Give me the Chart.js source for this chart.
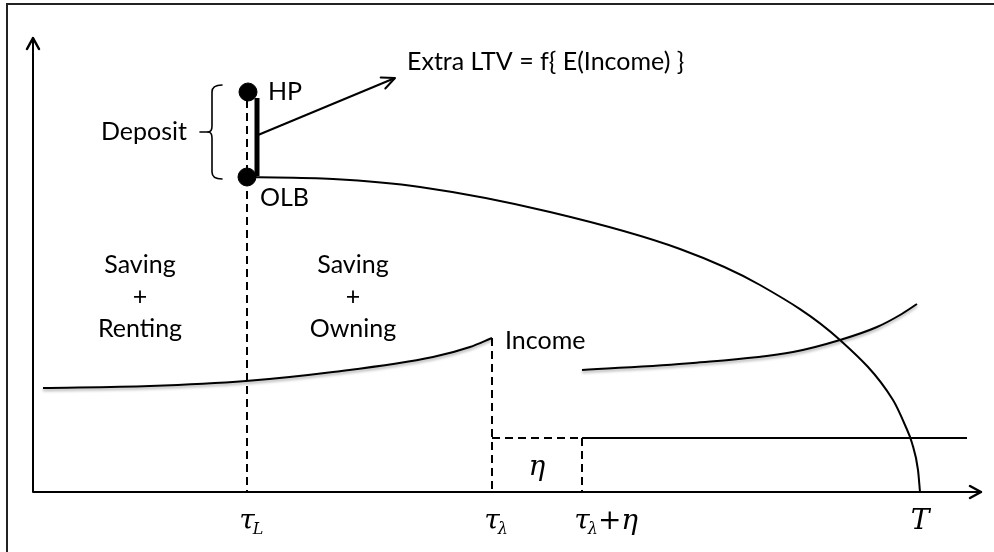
<!DOCTYPE html>
<html lang="en">
<head>
<meta charset="UTF-8" />
<title>Deposit, OLB and Income</title>
<script src="https://cdnjs.cloudflare.com/ajax/libs/Chart.js/4.4.0/chart.umd.min.js"></script>
<style>
  html, body { margin: 0; padding: 0; background: #fff; overflow: hidden; }
  .frame { position: relative; width: 994px; height: 552px; }
  .frame::before {
    content: "";
    position: absolute;
    left: 6px; top: 3px; right: -10px; bottom: -10px;
    border-left: 2px solid #222;
    border-top: 2px solid #222;
  }
  #chart { position: absolute; left: 0; top: 0; }
</style>
</head>
<body>
<div class="frame">
  <canvas id="chart" width="994" height="552"></canvas>
</div>
<script>
  // axes range (arbitrary units, origin at the corner of the axes)
  const xMax = 948, yMax = 454;

  // time axis ticks
  const tickValues = [214, 459, 549, 887];
  const tickMain = ["τ", "τ", "τ", "T"];
  const tickSub = ["L", "λ", "λ", ""];
  const tickTail = ["", "", "+η", ""];

  // income before and after the shock
  const incomeX1 = [10, 117, 213, 300, 400, 437, 459];
  const incomeY1 = [104, 106, 111, 120, 135, 145, 154];
  const incomeX2 = [549, 660, 760, 807, 844, 867, 884];
  const incomeY2 = [122, 129, 140, 152, 165, 177, 188];

  // outstanding loan balance
  const olbX = [214, 300, 387, 517, 647, 727, 807, 860, 872, 879, 885, 887];
  const olbY = [315, 313, 305, 280, 243, 207, 152, 92, 67, 49, 22, 0];

  // flat line after tau_lambda + eta
  const flatX = [549, 934];
  const flatY = [54, 54];

  // dashed guides
  const dashedX = [[214, 214], [459, 459], [459, 549], [549, 549]];
  const dashedY = [[392, 0], [154, 0], [54, 54], [54, 0]];

  // HP and OLB points, deposit bar, arrow to the LTV note
  const dotX = [215, 214];
  const dotY = [400, 315];
  const depositX = [224, 224];
  const depositY = [394, 316];
  const arrowX = [225, 362];
  const arrowY = [357, 414];

  // curly brace beside the deposit
  const braceX = 179, braceArmX = 189, braceTipX = 167;
  const braceTop = 407, braceMid = 360, braceBottom = 313;

  // text labels
  const labelText = ["Deposit", "HP", "OLB", "Extra LTV = f{ E(Income) }",
                     "Saving", "+", "Renting", "Saving", "+", "Owning", "Income"];
  const labelX = [154, 235, 227, 374, 107, 107, 107, 320, 320, 320, 472];
  const labelY = [360, 400, 294, 430, 227, 195, 163, 227, 195, 163, 151];
  const labelAlign = ["right", "left", "left", "left", "center", "center", "center",
                      "center", "center", "center", "left"];
  const etaX = 504, etaY = 24;

  const pts = (xs, ys) => xs.map((x, i) => ({ x: x, y: ys[i] }));

  const lineStyle = {
    showLine: true, borderColor: "#000", borderWidth: 2,
    pointRadius: 0, fill: false, clip: false
  };

  const datasets = [
    Object.assign({ label: "income1", data: pts(incomeX1, incomeY1), cubicInterpolationMode: "monotone", shadow: true }, lineStyle),
    Object.assign({ label: "income2", data: pts(incomeX2, incomeY2), cubicInterpolationMode: "monotone", shadow: true }, lineStyle),
    Object.assign({ label: "olb", data: pts(olbX, olbY), cubicInterpolationMode: "monotone" }, lineStyle),
    Object.assign({ label: "flat", data: pts(flatX, flatY) }, lineStyle),
  ];
  dashedX.forEach((xs, i) => {
    datasets.push(Object.assign({ label: "dash" + i, data: pts(xs, dashedY[i]), borderDash: [8, 5] }, lineStyle));
  });
  datasets.push(Object.assign({}, lineStyle, { label: "deposit", data: pts(depositX, depositY), borderWidth: 5, borderCapStyle: "butt" }));
  datasets.push(Object.assign({}, lineStyle, { label: "arrow", data: pts(arrowX, arrowY) }));
  datasets.push({
    label: "dots", data: pts(dotX, dotY), showLine: false,
    pointRadius: 9, pointBackgroundColor: "#000", pointBorderColor: "#000", clip: false
  });

  function arrowHead(ctx, x0, y0, x1, y1, len, half) {
    const a = Math.atan2(y1 - y0, x1 - x0);
    const c = Math.cos(a), s = Math.sin(a);
    ctx.beginPath();
    ctx.moveTo(x1 - len * c + half * s, y1 - len * s - half * c);
    ctx.lineTo(x1, y1);
    ctx.lineTo(x1 - len * c - half * s, y1 - len * s + half * c);
    ctx.stroke();
  }

  // soft shadow under the income curves, like the original drawing
  const shadowPlugin = {
    id: "shadow",
    beforeDatasetDraw(chart, args) {
      if (args.meta.controller.getDataset().shadow) {
        const ctx = chart.ctx;
        ctx.save();
        ctx.shadowColor = "rgba(0,0,0,0.35)";
        ctx.shadowBlur = 3;
        ctx.shadowOffsetY = 2;
      }
    },
    afterDatasetDraw(chart, args) {
      if (args.meta.controller.getDataset().shadow) chart.ctx.restore();
    }
  };

  const decorPlugin = {
    id: "decor",
    afterDatasetsDraw(chart) {
      const ctx = chart.ctx;
      const xs = chart.scales.x, ys = chart.scales.y;
      const px = v => xs.getPixelForValue(v);
      const py = v => ys.getPixelForValue(v);
      ctx.save();
      ctx.strokeStyle = "#000";
      ctx.fillStyle = "#000";
      ctx.lineCap = "round";
      ctx.lineJoin = "round";

      // axes with arrow heads
      ctx.lineWidth = 2;
      ctx.beginPath();
      ctx.moveTo(px(0), py(yMax));
      ctx.lineTo(px(0), py(0));
      ctx.lineTo(px(xMax), py(0));
      ctx.stroke();
      ctx.lineWidth = 2.5;
      arrowHead(ctx, px(0), py(0), px(0), py(yMax), 11, 6);
      arrowHead(ctx, px(0), py(0), px(xMax), py(0), 11, 6);

      // arrow towards the LTV note
      ctx.lineWidth = 2;
      arrowHead(ctx, px(arrowX[0]), py(arrowY[0]), px(arrowX[1]), py(arrowY[1]), 13, 6);

      // curly brace
      const bx = px(braceX), ba = px(braceArmX), bt = px(braceTipX);
      const yT = py(braceTop), yM = py(braceMid), yB = py(braceBottom);
      ctx.lineWidth = 1.6;
      ctx.beginPath();
      ctx.moveTo(ba, yT);
      ctx.quadraticCurveTo(bx, yT, bx, yT + 7);
      ctx.lineTo(bx, yM - 6);
      ctx.quadraticCurveTo(bx, yM, bx - 4, yM);
      ctx.quadraticCurveTo(bx, yM, bx, yM + 6);
      ctx.lineTo(bx, yB - 7);
      ctx.quadraticCurveTo(bx, yB, ba, yB);
      ctx.stroke();
      ctx.beginPath();
      ctx.moveTo(bx - 4, yM);
      ctx.lineTo(bt, yM);
      ctx.stroke();

      // text labels
      ctx.font = '25px Lato';
      ctx.textBaseline = "middle";
      labelText.forEach((t, i) => {
        ctx.textAlign = labelAlign[i];
        ctx.fillText(t, px(labelX[i]), py(labelY[i]));
      });
      ctx.font = 'italic 28px "DejaVu Serif"';
      ctx.textAlign = "center";
      ctx.fillText("η", px(etaX), py(etaY));

      // time axis labels
      const yLab = py(0) + 30;
      tickValues.forEach((v, i) => {
        const x = px(v);
        ctx.font = 'italic 28px "DejaVu Serif"';
        const wMain = ctx.measureText(tickMain[i]).width;
        let cx = x - wMain / 2;
        ctx.textAlign = "left";
        ctx.textBaseline = "middle";
        ctx.fillText(tickMain[i], cx, yLab);
        cx += wMain;
        if (tickSub[i]) {
          ctx.font = 'italic 16px "DejaVu Serif"';
          ctx.fillText(tickSub[i], cx - 2, yLab + 8);
          cx += ctx.measureText(tickSub[i]).width - 2;
        }
        if (tickTail[i]) {
          ctx.font = 'italic 28px "DejaVu Serif"';
          ctx.fillText(tickTail[i], cx, yLab);
        }
      });
      ctx.restore();
    }
  };

  new Chart(document.getElementById("chart"), {
    type: "scatter",
    data: { datasets: datasets },
    options: {
      responsive: false,
      animation: false,
      layout: { padding: { left: 33, top: 38, right: 13, bottom: 60 } },
      scales: {
        x: { type: "linear", min: 0, max: xMax, display: false },
        y: { type: "linear", min: 0, max: yMax, display: false }
      },
      plugins: { legend: { display: false }, tooltip: { enabled: false } }
    },
    plugins: [shadowPlugin, decorPlugin]
  });
</script>
</body>
</html>
